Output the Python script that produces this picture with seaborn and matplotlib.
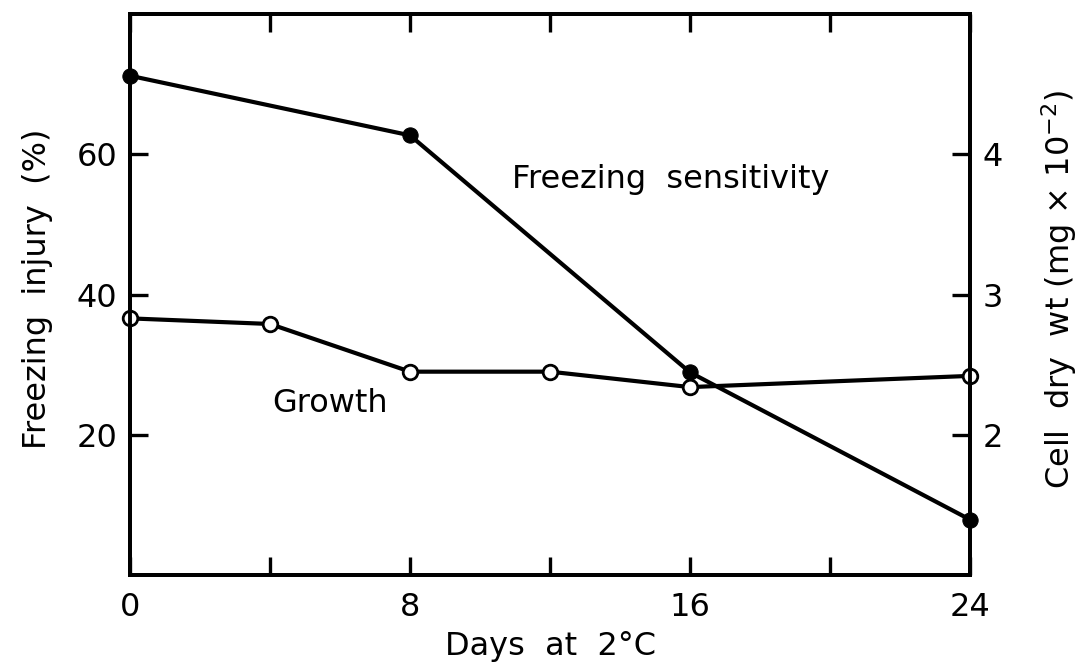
import matplotlib
matplotlib.use("Agg")
import matplotlib.pyplot as plt
import seaborn as sns
import pandas as pd

# Freezing injury (%) of cells vs. days at 2 °C
sens_days = [0, 8, 16, 24]
sens_injury = [71.2, 62.7, 28.9, 7.9]

# Cell dry weight (mg x 10^-2) vs. days at 2 °C
growth_days = [0, 4, 8, 12, 16, 24]
growth_wt = [2.83, 2.79, 2.45, 2.45, 2.34, 2.42]

x_ticks = [0, 8, 16, 24]
x_minor = [0, 4, 8, 12, 16, 20, 24]
left_ticks = [20, 40, 60]
right_ticks = [2, 3, 4]

sns.set_theme(style="ticks")
plt.rcParams["font.family"] = ["DejaVu Sans"]
plt.rcParams["mathtext.fontset"] = "dejavusans"
for key in ("text.color", "axes.labelcolor", "xtick.color", "ytick.color",
            "axes.edgecolor"):
    plt.rcParams[key] = "black"

FS = 23

fig = plt.figure(figsize=(10.79, 6.72), dpi=100)
ax = fig.add_axes([0.1205, 0.1443, 0.7785, 0.8348])
ax2 = ax.twinx()

sens_df = pd.DataFrame({"day": sens_days, "injury": sens_injury})
growth_df = pd.DataFrame({"day": growth_days, "wt": growth_wt})

sns.lineplot(data=sens_df, x="day", y="injury", ax=ax, color="black",
             linewidth=3.0, marker="o", markersize=11,
             markerfacecolor="black", markeredgecolor="black", clip_on=False)
sns.lineplot(data=growth_df, x="day", y="wt", ax=ax2, color="black",
             linewidth=3.0, marker="o", markersize=10.5,
             markerfacecolor="white", markeredgecolor="black",
             markeredgewidth=2.0, clip_on=False)

ax.set_xlim(0, 24)
ax.set_ylim(0, 80)
ax2.set_ylim(1, 5)

ax.set_xticks(x_minor)
ax.set_xticklabels([str(t) if t in x_ticks else "" for t in x_minor])
ax.set_yticks(left_ticks)
ax.set_yticklabels([str(t) for t in left_ticks])
ax2.set_yticks(right_ticks)
ax2.set_yticklabels([str(t) for t in right_ticks])

for a in (ax, ax2):
    a.tick_params(direction="in", length=13, width=2.4, labelsize=FS, pad=9)
    for s in a.spines.values():
        s.set_linewidth(2.8)
        s.set_color("black")
ax.tick_params(axis="x", top=True, pad=12)

ax.set_xlabel("Days  at  2°C", fontsize=FS, labelpad=6)
ax.set_ylabel("Freezing  injury  (%)", fontsize=FS)
ax.yaxis.set_label_coords(-0.092, 0.51)
ax2.set_ylabel(r"Cell  dry  wt (mg $\times$ 10$^{-2}$)", fontsize=FS)
ax2.yaxis.set_label_coords(1.083, 0.51)

ax.text(0.455, 0.705, "Freezing  sensitivity", transform=ax.transAxes,
        fontsize=FS, ha="left", va="center")
ax.text(0.169, 0.305, "Growth", transform=ax.transAxes,
        fontsize=FS, ha="left", va="center")

ax2.set_zorder(ax.get_zorder() + 1)
ax2.patch.set_visible(False)

fig.savefig("out.png", dpi=100, facecolor="white")
